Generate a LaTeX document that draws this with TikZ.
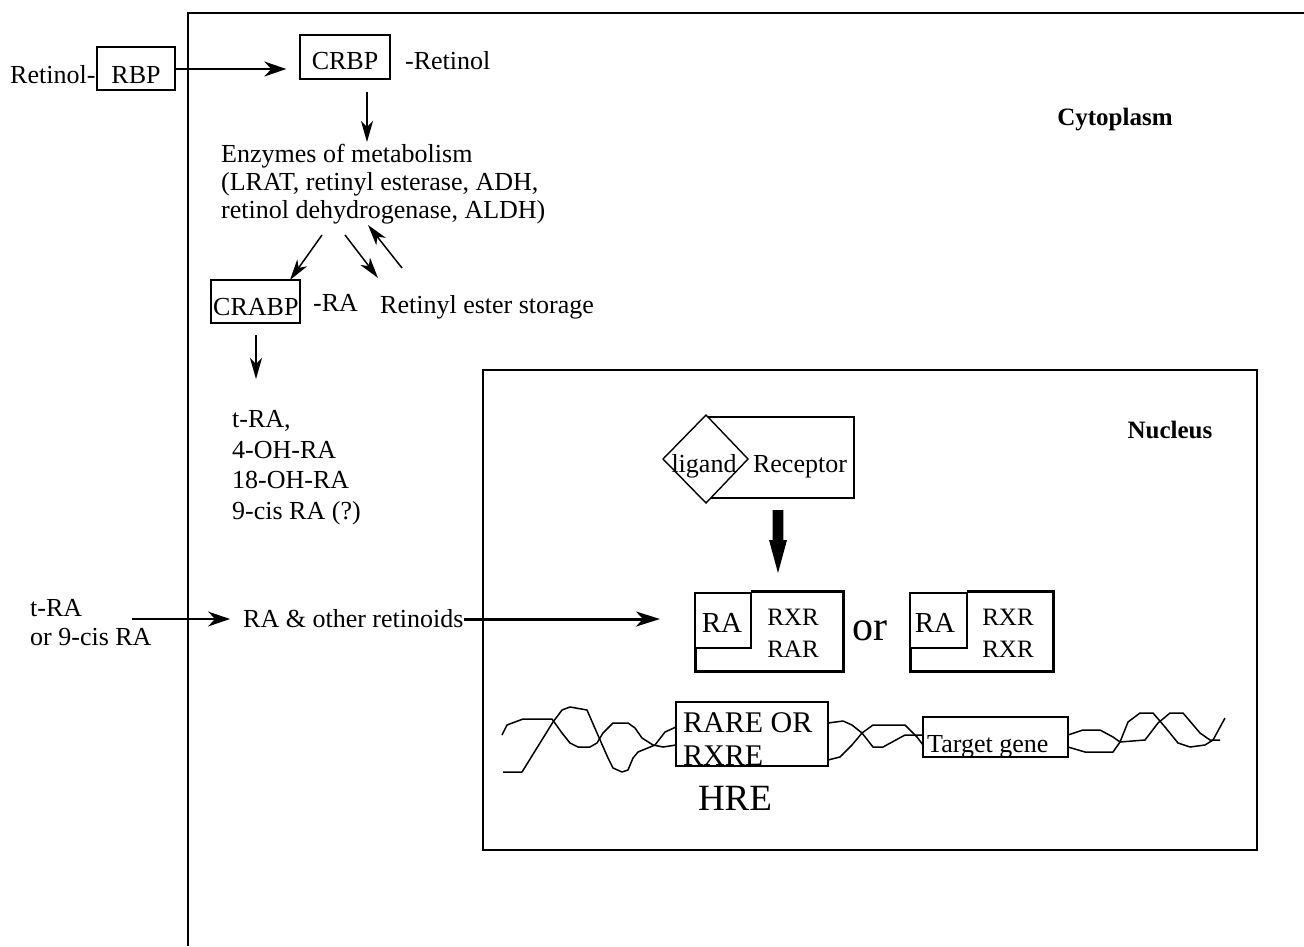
\documentclass[tikz,border=0pt]{standalone}
\usepackage{fontspec}
\setmainfont{Liberation Serif}
\usetikzlibrary{arrows.meta,calc}
\begin{document}
\begin{tikzpicture}[x=1pt,y=-1pt,
  every node/.style={inner sep=0pt, font=\fontsize{26}{30}\selectfont},
  lbl/.style={anchor=base west},
  lblc/.style={anchor=base},
  bx/.style={draw, line width=1.4pt, inner sep=0pt},
  ln/.style={line width=1.4pt},
  harr/.style={line width=1.4pt, -{Stealth[length=22pt,width=15pt,inset=7pt]}},
  varr/.style={line width=1.5pt, -{Stealth[length=21pt,width=12pt,inset=6pt]}},
  thickarr/.style={line width=3pt, -{Stealth[length=24pt,width=15pt,inset=7pt]}},
  thickbox/.style={line width=3pt, line join=miter},
  boldlbl/.style={anchor=base, font=\fontsize{25}{30}\selectfont\bfseries},
  strand/.style={line width=1.5pt, line join=round}
]
\useasboundingbox (0,0) rectangle (1304,946);

% cell boundary and nucleus
\draw[line width=2pt] (1304,13) -- (188,13) -- (188,946);
\draw[ln] (483,370) rectangle (1257,850);
\node[boldlbl] (cyto) at (1115,125) {Cytoplasm};
\node[boldlbl] (nuc) at (1170,438) {Nucleus};

% retinol uptake
\node[lbl] (retl) at (10,83) {Retinol-};
\node[bx, minimum width=78pt, minimum height=43pt, text height=29pt, text depth=0pt] (rbp) at (136,68.5) {RBP};
\node[bx, minimum width=90pt, minimum height=44pt, text height=24pt, text depth=0pt] (crbp) at (345,57) {CRBP};
\node[lbl] (cret) at (405,69) {-Retinol};
\draw[harr, shorten >=13pt] (rbp.east |- 0,69) -- (crbp.west |- 0,69);

% metabolism
\coordinate (m1s) at (367,92);
\coordinate (m1e) at (367,142);
\draw[varr] (m1s) -- (m1e);
\node[lbl] (enz1) at (221,162) {Enzymes of metabolism};
\node[lbl] (enz2) at (221,190) {(LRAT, retinyl esterase, ADH,};
\node[lbl] (enz3) at (221,218) {retinol dehydrogenase, ALDH)};

\coordinate (d1s) at (322,235);
\coordinate (d1e) at (290,280);
\coordinate (d2s) at (345,235);
\coordinate (d2e) at (378,278);
\coordinate (d3s) at (402,268);
\coordinate (d3e) at (368,225);
\draw[varr] (d1s) -- (d1e);
\draw[varr] (d2s) -- (d2e);
\draw[varr] (d3s) -- (d3e);

\node[bx, minimum width=89pt, minimum height=43pt] (crabp) at (255.5,301.5) {};
\node[lbl] (crabpt) at (213,315) {CRABP};
\node[lbl] (cra) at (313,311) {-RA};
\node[lbl] (store) at (380,313) {Retinyl ester storage};

\coordinate (c1s) at (256,335);
\coordinate (c1e) at (256,379);
\draw[varr] (c1s) -- (c1e);

\node[lbl] (l1) at (232,427.5) {t-RA,};
\node[lbl] (l2) at (232,458) {4-OH-RA};
\node[lbl] (l3) at (232,488.5) {18-OH-RA};
\node[lbl] (l4) at (232,519) {9-cis RA (?)};

% external RA
\node[lbl] (tra) at (30,616) {t-RA};
\node[lbl] (tra2) at (30,645) {or 9-cis RA};
\node[lbl] (ret) at (243,627) {RA \& other retinoids};
\coordinate (ta) at (132,619);
\draw[harr, shorten >=13pt] (ta) -- (ret.west |- ta);
\coordinate (thk) at (660,619);
\draw[thickarr] (ret.east |- thk) -- (thk);

% ligand - receptor
\node[draw, line width=1.4pt, minimum width=148pt, minimum height=81pt] (rec) at (780,457.5) {};
\filldraw[fill=white, line width=1.4pt, line join=miter] (663,459) -- (706,415) -- (748,459) -- (706,503) -- cycle;
\node[lblc] (lig) at (704,472) {ligand};
\node[lblc] (rect) at (800,472) {Receptor};
\fill (772.7,510) -- (783.3,510) -- (783.3,540) -- (787,540) -- (778,573) -- (769,540) -- (772.7,540) -- cycle;

% complexes
\node[bx, minimum width=56pt, minimum height=55pt] (ra1) at (723,620.5) {};
\draw[thickbox] (751,591.5) -- (843,591.5) -- (843,671) -- (695,671) -- (695,647);
\node[lblc, font=\fontsize{29}{30}\selectfont] (ra1t) at (722,632) {RA};
\node[lblc, font=\fontsize{25}{30}\selectfont] (rxr1) at (793,625) {RXR};
\node[lblc, font=\fontsize{25}{30}\selectfont] (rar1) at (793,657) {RAR};
\node[lblc, font=\fontsize{42}{44}\selectfont] (or) at (870,640) {or};
\node[bx, minimum width=57pt, minimum height=55pt] (ra2) at (938.5,620.5) {};
\draw[thickbox] (967,591.5) -- (1053,591.5) -- (1053,671) -- (910,671) -- (910,647);
\node[lblc, font=\fontsize{29}{30}\selectfont] (ra2t) at (935,632) {RA};
\node[lblc, font=\fontsize{25}{30}\selectfont] (rxr2) at (1008,625) {RXR};
\node[lblc, font=\fontsize{25}{30}\selectfont] (rxr3) at (1008,657) {RXR};

% DNA
\draw[strand] (503,772) -- (522,772) -- (553,722) -- (562,710) -- (570,707) -- (587,710) -- (597,733) -- (608,758) -- (613,768) -- (622,772) -- (628,770) -- (633,758) -- (638,752) -- (655,745) -- (665,732) -- (676,727);
\draw[strand] (502,735) -- (507,725) -- (523,719) -- (552,719) -- (562,733) -- (570,743) -- (578,747) -- (590,747) -- (597,743) -- (603,733) -- (613,723) -- (628,723) -- (635,728) -- (642,738) -- (653,745) -- (663,747) -- (676,745);
\draw[strand] (828,723) -- (843,721) -- (852,725) -- (862,733) -- (873,747) -- (883,747) -- (905,735) -- (923,735);
\draw[strand] (828,760) -- (840,757) -- (852,745) -- (862,733) -- (873,725) -- (905,725) -- (917,737) -- (923,745);
\draw[strand] (1068,735) -- (1083,730) -- (1100,730) -- (1113,737) -- (1120,742) -- (1128,722) -- (1140,713) -- (1153,713) -- (1165,727) -- (1178,743) -- (1190,747) -- (1205,745) -- (1213,740) -- (1225,718);
\draw[strand] (1068,747) -- (1085,752) -- (1113,752) -- (1120,742) -- (1145,740) -- (1158,723) -- (1170,713) -- (1183,713) -- (1200,733) -- (1210,740) -- (1220,740);

\node[bx, fill=white, minimum width=152pt, minimum height=64pt] (rare) at (752,734) {};
\node[lbl, font=\fontsize{30}{32}\selectfont] (raret) at (683,732) {RARE OR};
\node[lbl, font=\fontsize{30}{32}\selectfont] (rxret) at (683,765) {RXRE};
\node[lblc, font=\fontsize{37}{40}\selectfont] (hre) at (735,810) {HRE};
\node[bx, fill=white, minimum width=145pt, minimum height=40pt] (gene) at (995.5,737) {};
\node[lbl] (genet) at (927,752) {Target gene};
\end{tikzpicture}
\end{document}
